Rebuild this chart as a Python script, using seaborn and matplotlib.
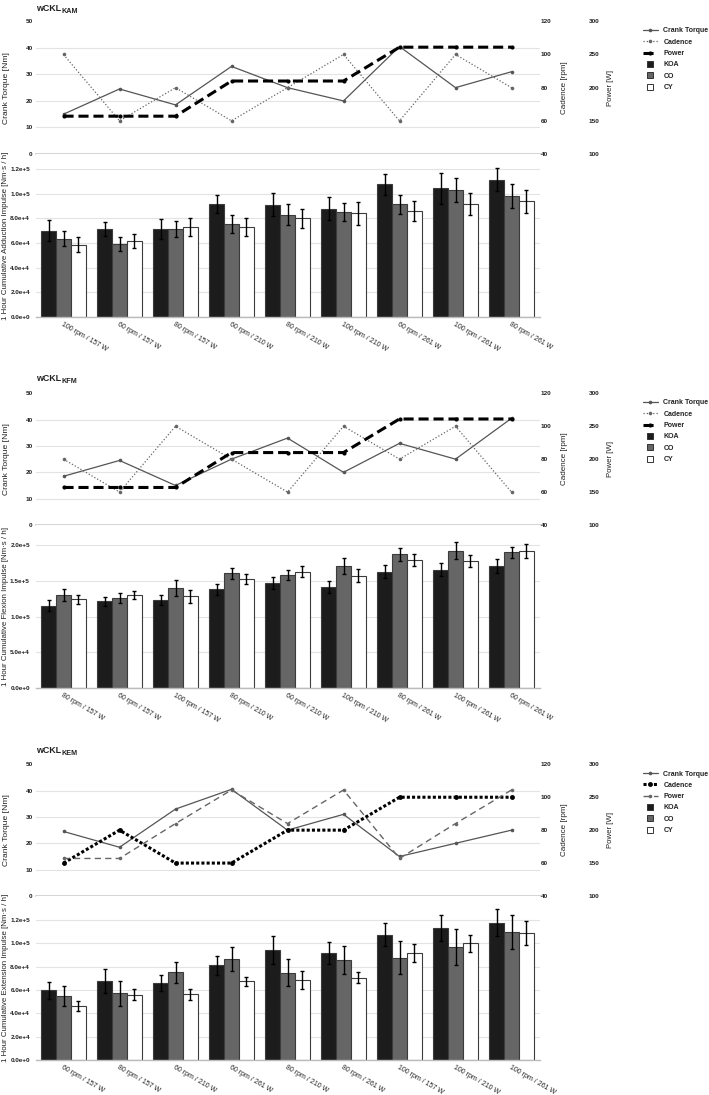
import numpy as np
import pandas as pd
import matplotlib.pyplot as plt
import seaborn as sns
from matplotlib.lines import Line2D
from matplotlib.ticker import FuncFormatter

# ------------------------------------------------------------
# Data (bar values in Nm·s / h)
# ------------------------------------------------------------
groups = ["KOA", "CO", "CY"]

kam_conditions = ["100 rpm / 157 W", "60 rpm / 157 W", "80 rpm / 157 W",
                  "60 rpm / 210 W", "80 rpm / 210 W", "100 rpm / 210 W",
                  "60 rpm / 261 W", "100 rpm / 261 W", "80 rpm / 261 W"]
kam_torque = [15.0, 24.5, 18.5, 33.0, 25.0, 20.0, 40.5, 25.0, 31.0]
kam_cadence = [100, 60, 80, 60, 80, 100, 60, 100, 80]
kam_power = [157, 157, 157, 210, 210, 210, 261, 261, 261]
kam_koa = [70.0e3, 71.4e3, 71.1e3, 91.5e3, 91.0e3, 87.7e3, 107.6e3, 104.3e3, 111.3e3]
kam_koa_sd = [8.5e3, 5.7e3, 8.2e3, 7.0e3, 9.5e3, 9.2e3, 8.6e3, 12.7e3, 9.5e3]
kam_co = [63.3e3, 59.2e3, 71.1e3, 75.2e3, 82.8e3, 85.0e3, 91.4e3, 102.7e3, 98.1e3]
kam_co_sd = [6.2e3, 5.7e3, 6.3e3, 7.0e3, 8.7e3, 7.3e3, 7.8e3, 9.7e3, 10.0e3]
kam_cy = [58.4e3, 61.4e3, 72.8e3, 72.8e3, 79.8e3, 83.9e3, 85.9e3, 91.6e3, 93.8e3]
kam_cy_sd = [6.0e3, 5.7e3, 7.6e3, 7.0e3, 7.6e3, 9.0e3, 8.4e3, 9.2e3, 9.4e3]

kfm_conditions = ["80 rpm / 157 W", "60 rpm / 157 W", "100 rpm / 157 W",
                  "80 rpm / 210 W", "60 rpm / 210 W", "100 rpm / 210 W",
                  "80 rpm / 261 W", "100 rpm / 261 W", "60 rpm / 261 W"]
kfm_torque = [18.5, 24.5, 15.0, 25.0, 33.0, 20.0, 31.0, 25.0, 40.5]
kfm_cadence = [80, 60, 100, 80, 60, 100, 80, 100, 60]
kfm_power = [157, 157, 157, 210, 210, 210, 261, 261, 261]
kfm_koa = [115.6e3, 121.2e3, 123.1e3, 138.0e3, 147.3e3, 141.7e3, 162.7e3, 165.5e3, 170.6e3]
kfm_koa_sd = [7.0e3, 6.0e3, 7.0e3, 7.5e3, 8.0e3, 8.0e3, 9.0e3, 9.3e3, 9.4e3]
kfm_co = [130.5e3, 125.9e3, 139.9e3, 160.8e3, 158.5e3, 170.6e3, 187.4e3, 192.0e3, 189.7e3]
kfm_co_sd = [8.0e3, 7.0e3, 11.6e3, 7.5e3, 7.0e3, 11.0e3, 9.0e3, 11.7e3, 7.5e3]
kfm_cy = [124.0e3, 129.6e3, 128.2e3, 152.4e3, 162.7e3, 157.1e3, 179.0e3, 177.6e3, 191.6e3]
kfm_cy_sd = [6.0e3, 5.6e3, 8.8e3, 6.5e3, 8.0e3, 9.0e3, 8.4e3, 8.9e3, 9.8e3]

kem_conditions = ["60 rpm / 157 W", "80 rpm / 157 W", "60 rpm / 210 W",
                  "60 rpm / 261 W", "80 rpm / 210 W", "80 rpm / 261 W",
                  "100 rpm / 157 W", "100 rpm / 210 W", "100 rpm / 261 W"]
kem_torque = [24.5, 18.5, 33.0, 40.5, 25.0, 31.0, 15.0, 20.0, 25.0]
kem_cadence = [60, 80, 60, 60, 80, 80, 100, 100, 100]
kem_power = [157, 157, 210, 261, 210, 261, 157, 210, 261]
kem_koa = [59.7e3, 67.7e3, 66.0e3, 81.1e3, 94.3e3, 91.7e3, 107.4e3, 112.9e3, 117.7e3]
kem_koa_sd = [7.4e3, 10.0e3, 7.1e3, 8.0e3, 12.3e3, 9.7e3, 9.7e3, 11.1e3, 11.4e3]
kem_co = [54.9e3, 57.1e3, 75.1e3, 86.6e3, 74.9e3, 85.7e3, 87.7e3, 96.6e3, 109.4e3]
kem_co_sd = [8.5e3, 10.9e3, 9.2e3, 10.5e3, 11.7e3, 12.0e3, 14.0e3, 15.4e3, 14.6e3]
kem_cy = [46.3e3, 56.0e3, 56.3e3, 67.4e3, 68.6e3, 70.6e3, 92.0e3, 100.0e3, 108.9e3]
kem_cy_sd = [4.3e3, 4.9e3, 4.8e3, 4.0e3, 8.0e3, 4.8e3, 7.7e3, 7.4e3, 10.2e3]

# ------------------------------------------------------------
# Styling
# ------------------------------------------------------------
sns.set_theme(style="white")
plt.rcParams["font.family"] = ["Liberation Sans", "DejaVu Sans"]

W, H = 709, 1095
AX_L, AX_R = 35.5, 539.5
bar_colors = {"KOA": "#1c1c1c", "CO": "#666666", "CY": "#ffffff"}
grid_color = "#e3e3e3"
text_color = "#222222"

style_a = {
    "torque": dict(color="#555555", linestyle="-", linewidth=0.9, marker="o", markersize=2.6),
    "cadence": dict(color="#666666", linestyle=(0, (1, 1.6)), linewidth=0.9, marker="o", markersize=2.6),
    "power": dict(color="black", linestyle=(0, (3.3, 1.6)), linewidth=2.2, marker="o", markersize=3.0),
}
style_b = {
    "torque": dict(color="#555555", linestyle="-", linewidth=0.9, marker="o", markersize=2.6),
    "cadence": dict(color="black", linestyle=(0, (1, 0.7)), linewidth=2.2, marker="o", markersize=3.5),
    "power": dict(color="#666666", linestyle=(0, (4.5, 3)), linewidth=1.0, marker="o", markersize=2.6),
}


def box(top, bottom):
    return [AX_L / W, 1 - bottom / H, (AX_R - AX_L) / W, (bottom - top) / H]


def sci(v, pos):
    return f"{v:.1e}".replace("e+0", "e+")


fig = plt.figure(figsize=(W / 100, H / 100), dpi=100)
renderer = fig.canvas.get_renderer()


def draw_panel(sub, title_base, top, mid, bottom, legend_top,
               conditions, torque, cadence, power, means, sds,
               bar_label, bar_top, bar_ticks, styles):
    xpos = np.arange(len(conditions))

    # title with subscript
    t_main = fig.text(36 / W, 1 - title_base / H, "wCKL", fontsize=6.4, fontweight="bold",
                      va="baseline", ha="left", color=text_color)
    x1 = t_main.get_window_extent(renderer).x1
    fig.text((x1 + 0.3) / W, 1 - (title_base + 2.0) / H, sub, fontsize=5.2,
             fontweight="bold", va="baseline", ha="left", color=text_color)

    # ---------- line chart ----------
    ax_line = fig.add_axes(box(top, mid))
    ax_cad = ax_line.twinx()
    ax_pow = ax_line.twinx()

    sns.lineplot(x=xpos, y=torque, ax=ax_line, sort=False, markeredgewidth=0, **styles["torque"])
    sns.lineplot(x=xpos, y=cadence, ax=ax_cad, sort=False, markeredgewidth=0, **styles["cadence"])
    sns.lineplot(x=xpos, y=power, ax=ax_pow, sort=False, markeredgewidth=0, **styles["power"])

    ax_line.set_xlim(-0.5, len(conditions) - 0.5)
    ax_line.set_ylim(0, 50)
    ax_line.set_yticks([0, 10, 20, 30, 40, 50])
    ax_cad.set_ylim(40, 120)
    ax_cad.set_yticks([40, 60, 80, 100, 120])
    ax_pow.set_ylim(100, 300)
    ax_pow.set_yticks([100, 150, 200, 250, 300])
    ax_pow.spines["right"].set_position(("outward", 34.5))

    ax_line.grid(axis="y", color=grid_color, linewidth=0.8)
    ax_line.grid(axis="x", visible=False)
    ax_line.yaxis.get_gridlines()[-1].set_visible(False)
    ax_line.set_xticks([])
    for a in (ax_line, ax_cad, ax_pow):
        for s in a.spines.values():
            s.set_visible(False)
        a.set_xlabel("")
        a.set_ylabel("")
        a.tick_params(axis="y", length=0, labelsize=4.6, labelcolor=text_color)
        for t in a.get_yticklabels():
            t.set_fontweight("bold")
    ax_line.spines["bottom"].set_visible(True)
    ax_line.spines["bottom"].set_color("#cccccc")
    ax_line.spines["bottom"].set_linewidth(1.2)
    ax_line.tick_params(axis="y", pad=2)
    ax_cad.tick_params(axis="y", pad=0.7)
    ax_pow.tick_params(axis="y", pad=0.7)

    line_mid = 1 - (top + mid) / 2 / H
    fig.text(6.3 / W, line_mid, "Crank Torque [Nm]", rotation=90, ha="center", va="center",
             fontsize=6.1, color=text_color)
    fig.text(564 / W, line_mid, "Cadence [rpm]", rotation=90, ha="center", va="center",
             fontsize=5.8, color=text_color)
    fig.text(611 / W, line_mid, "Power [W]", rotation=90, ha="center", va="center",
             fontsize=5.6, color=text_color)

    # ---------- bar chart ----------
    ax_bar = fig.add_axes(box(mid, bottom))
    df = pd.DataFrame({
        "condition": np.tile(conditions, len(groups)),
        "group": np.repeat(groups, len(conditions)),
        "value": np.concatenate([means[g] for g in groups]),
    })
    sns.barplot(data=df, x="condition", y="value", hue="group", order=conditions,
                hue_order=groups, palette=bar_colors, edgecolor="#3c3c3c", linewidth=0.8,
                errorbar=None, legend=False, ax=ax_bar)
    for container, g in zip(ax_bar.containers, groups):
        xs = [p.get_x() + p.get_width() / 2 for p in container]
        hs = [p.get_height() for p in container]
        ax_bar.errorbar(xs, hs, yerr=sds[g], fmt="none", ecolor="black",
                        elinewidth=1.0, capsize=1.3, capthick=1.0, zorder=5)

    ax_bar.set_xlim(-0.5, len(conditions) - 0.5)
    ax_bar.set_ylim(0, bar_top)
    ax_bar.set_yticks(bar_ticks)
    ax_bar.yaxis.set_major_formatter(FuncFormatter(sci))
    ax_bar.grid(axis="y", color=grid_color, linewidth=0.8)
    ax_bar.set_axisbelow(True)
    for s in ax_bar.spines.values():
        s.set_visible(False)
    ax_bar.spines["bottom"].set_visible(True)
    ax_bar.spines["bottom"].set_color("#bbbbbb")
    ax_bar.spines["bottom"].set_linewidth(1.0)
    ax_bar.set_xlabel("")
    ax_bar.set_ylabel("")
    ax_bar.tick_params(axis="y", length=0, pad=4, labelsize=4.6, labelcolor=text_color)
    for t in ax_bar.get_yticklabels():
        t.set_fontweight("bold")
    ax_bar.tick_params(axis="x", length=0, pad=2.5, labelsize=5, labelcolor=text_color)
    for t in ax_bar.get_xticklabels():
        t.set_rotation(-30)
        t.set_ha("left")
        t.set_rotation_mode("anchor")

    fig.text(5.5 / W, 1 - (mid + bottom) / 2 / H, bar_label, rotation=90, ha="center",
             va="center", fontsize=5.7, color=text_color)

    # ---------- legend ----------
    handles = [
        Line2D([], [], markeredgewidth=0, **styles["torque"]),
        Line2D([], [], markeredgewidth=0, **styles["cadence"]),
        Line2D([], [], markeredgewidth=0, **styles["power"]),
    ]
    for g in groups:
        handles.append(Line2D([], [], linestyle="None", marker="s", markersize=5,
                              markerfacecolor=bar_colors[g], markeredgecolor="#333333",
                              markeredgewidth=0.7))
    fig.legend(handles, ["Crank Torque", "Cadence", "Power"] + groups,
               loc="upper left", bbox_to_anchor=(643 / W, 1 - legend_top / H),
               frameon=False, prop={"size": 5, "weight": "bold"}, handlelength=2.15,
               handletextpad=0.8, labelspacing=0.62, borderpad=0, borderaxespad=0,
               numpoints=1, labelcolor=text_color)


draw_panel("KAM", 10.7, 21.3, 154, 317, 27.5,
           kam_conditions, kam_torque, kam_cadence, kam_power,
           {"KOA": kam_koa, "CO": kam_co, "CY": kam_cy},
           {"KOA": kam_koa_sd, "CO": kam_co_sd, "CY": kam_cy_sd},
           "1 Hour Cumulative Adduction Impulse [Nm·s / h]", 132000,
           [0, 20000, 40000, 60000, 80000, 100000, 120000], style_a)

draw_panel("KFM", 380.7, 393.3, 525, 688.3, 399.5,
           kfm_conditions, kfm_torque, kfm_cadence, kfm_power,
           {"KOA": kfm_koa, "CO": kfm_co, "CY": kfm_cy},
           {"KOA": kfm_koa_sd, "CO": kfm_co_sd, "CY": kfm_cy_sd},
           "1 Hour Cumulative Flexion Impulse [Nm·s / h]", 228000,
           [0, 50000, 100000, 150000, 200000], style_a)

draw_panel("KEM", 752.7, 764.3, 896, 1060, 770.5,
           kem_conditions, kem_torque, kem_cadence, kem_power,
           {"KOA": kem_koa, "CO": kem_co, "CY": kem_cy},
           {"KOA": kem_koa_sd, "CO": kem_co_sd, "CY": kem_cy_sd},
           "1 Hour Cumulative Extension Impulse [Nm·s / h]", 140500,
           [0, 20000, 40000, 60000, 80000, 100000, 120000], style_b)

fig.savefig("out.png", dpi=100)
